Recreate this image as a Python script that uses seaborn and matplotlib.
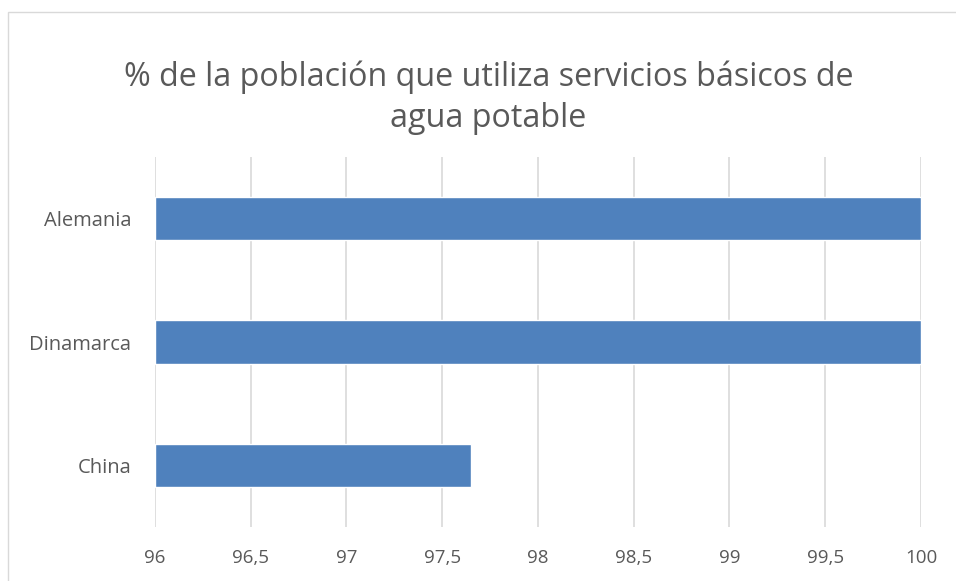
import pandas as pd
import matplotlib
matplotlib.use("Agg")
import matplotlib.pyplot as plt
import seaborn as sns
from matplotlib.patches import Rectangle

# Datos
paises = ["Alemania", "Dinamarca", "China"]
porcentaje = [100, 100, 97.65]
ticks_x = [96, 96.5, 97, 97.5, 98, 98.5, 99, 99.5, 100]
etiquetas_x = ["96", "96,5", "97", "97,5", "98", "98,5", "99", "99,5", "100"]

df = pd.DataFrame({"pais": paises, "valor": porcentaje})

sns.set_style("white")
plt.rcParams["font.family"] = ["Open Sans", "DejaVu Sans"]
gris = "#595959"

fig = plt.figure(figsize=(9.56, 5.81), dpi=100)
fig.patches.append(Rectangle((8 / 956, -0.1), 1.2, 1 - 12 / 581 + 0.1,
                             transform=fig.transFigure, fill=False,
                             edgecolor="#d9d9d9", linewidth=1))
ax = fig.add_axes([0.1621, 0.0929, 0.8013, 0.6369])

sns.barplot(data=df, x="valor", y="pais", orient="h", color="#4f81bd",
            width=0.35, saturation=1, ax=ax, zorder=3)
# las barras empiezan en 96, no en 0
for p in ax.patches:
    w = p.get_width()
    p.set_x(96)
    p.set_width(w - 96)

ax.set_xlim(96, 100)
ax.set_ylim(2.5, -0.5)
ax.set_xticks(ticks_x)
ax.set_xticklabels(etiquetas_x)
ax.grid(axis="x", color="#d9d9d9", linewidth=1.2, zorder=0)
ax.set_axisbelow(True)
ax.tick_params(axis="both", length=0, colors=gris)
ax.tick_params(axis="x", pad=16, labelsize=13.5)
ax.tick_params(axis="y", pad=17, labelsize=14.5)
ax.set_xlabel("")
ax.set_ylabel("")
sns.despine(ax=ax, left=True, bottom=True)

fig.text(0.511, 0.832, "% de la población que utiliza servicios básicos de\nagua potable",
         ha="center", va="center", fontsize=23.2, color=gris, linespacing=1.3)

fig.savefig("out.png", dpi=100)
